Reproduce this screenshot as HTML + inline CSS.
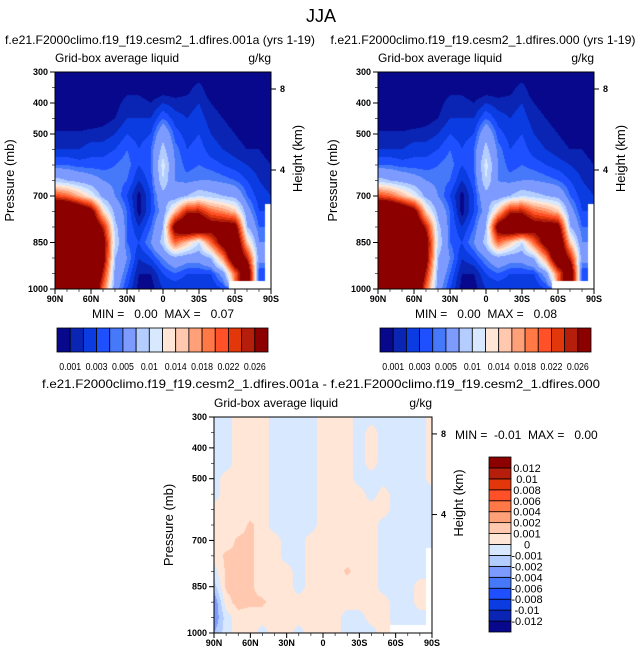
<!DOCTYPE html>
<html><head><meta charset="utf-8">
<style>
body{margin:0;background:#fff;}
#root{position:relative;width:643px;height:658px;overflow:hidden;font-family:"Liberation Sans",Arial,sans-serif;}
canvas{position:absolute;}
svg{position:absolute;left:0;top:0;}
</style></head>
<body><div id="root">
<canvas id="cA" width="216" height="217" style="left:55px;top:72px"></canvas>
<canvas id="cB" width="216" height="217" style="left:378px;top:72px"></canvas>
<canvas id="cD" width="218" height="216" style="left:214px;top:417px"></canvas>
<svg id="svg" width="643" height="658"></svg>
</div>
<script>
const lats=[90,80,70,60,50,40,30,20,10,0,-10,-20,-30,-40,-50,-60,-70,-80,-90];
const pres=[300,350,400,450,500,550,600,650,700,750,800,850,900,950,1000];
const N=null;
// values in 1e-3 g/kg
const fieldA=[
[0,0,0,0,0,0,0,0,0,0,0,0,0,0,0,0,0,0,0],
[0,0,0,0,0,0,0.5,0.5,0,0,0,0.5,1.5,0,0,0,0,0,0],
[0,0,0,0,0,0.5,1.5,1.5,1,2,1.5,1.5,2,1,0.5,0,0,0,0],
[0,0,0,0,0.5,1,2,2,2,4,2.5,2,2.5,1.5,1,0.5,0,0,0],
[1.2,1.2,1.2,1.5,1.5,2,3,2.5,3,7,3.5,2.5,3,2,1.5,1,0.5,0.5,0],
[2,2,2,2.5,2.5,3,4,3,4,9,4.5,3,3.5,2.5,2,1.5,1,1,0.5],
[4,4,3.5,3.5,3.5,4,4.5,3,4,11,5,3.5,4,3.5,3,2.5,2,1.5,1],
[9,8,7,6,5,4.5,4,2,3.5,10,5,4.5,5,5,4.5,4,3,2,1.5],
[22,20,16,12,7,5,3,0.5,3,7,6,8,10,9,8,7,4,2.5,2],
[40,40,35,30,14,7,4,0.5,3,6,15,25,25,20,18,15,6,3,N],
[40,40,40,35,25,9,4,2,4,8,30,35,35,30,30,30,8,4,N],
[40,40,40,40,30,10,4,3,5,9,20,15,10,20,30,35,15,5,N],
[40,40,40,40,30,8,5,2,3,5,7,6,6,8,18,35,25,6,N],
[40,40,40,40,25,7,4,1,1,3,4,3,3,3,6,20,35,3,N],
[40,40,40,40,20,6,3,0.5,0.5,2,2,2,2,2,3,N,N,N,N]];
const fieldB=[
[0,0,0,0,0,0,0,0,0,0,0,0,0,0,0,0,0,0,0],
[0,0,0,0,0,0,0.5,0.5,0,0,0,0.5,1.5,0,0,0,0,0,0],
[0,0,0,0,0,0.5,1.5,1.5,1,2,1.5,1.5,2,1,0.5,0,0,0,0],
[0,0,0,0,0.5,1,2,2,2,4,2.5,2,2.5,1.5,1,0.5,0,0,0],
[1.2,1.2,1.2,1.5,1.5,2,3,2.5,3,7,3.5,2.5,3,2,1.5,1,0.5,0.5,0],
[2,2,2,2.5,2.5,3,4,3,4,9,4.5,3,3.5,2.5,2,1.5,1,1,0.5],
[4,4,3.5,3.5,3.5,4,4.5,3,4,11,5,3.5,4,3.5,3,2.5,2,1.5,1],
[9,8,7,6,5,4.5,4,2,3.5,10,5,4.5,5,5,4.5,4,3,2,1.5],
[22,20,16,12,7,5,3,0.5,3,7,6,8,10,9,8,7,4,2.5,2],
[40,40,35,30,14,7,4,0.5,3,6,15,25,25,20,18,15,6,3,N],
[40,40,40,35,25,9,4,2,4,8,30,35,35,30,30,30,8,4,N],
[40,40,40,40,30,10,4,3,5,9,20,15,10,20,30,35,15,5,N],
[40,40,40,40,30,8,5,2,3,5,7,6,6,8,18,35,25,6,N],
[40,40,40,40,25,7,4,1,1,3,4,3,3,3,6,20,35,3,N],
[40,40,40,40,20,6,3,0.5,0.5,2,2,2,2,2,3,N,N,N,N]];
const fieldD=[
[-0.5,-0.5,0.5,0.5,0.5,-0.5,-0.5,-0.5,-0.5,0.5,0.5,0.5,-0.5,-0.5,-0.5,-0.5,-0.5,-0.5,0.5],
[-0.5,-0.5,0.5,0.5,0.5,-0.5,-0.5,-0.5,-0.5,0.5,0.5,0.5,-0.5,0.5,-0.5,-0.5,-0.5,-0.5,0.5],
[-0.5,-0.5,0.5,0.5,0.5,-0.5,-0.5,-0.5,-0.5,0.5,0.5,0.5,-0.5,0.5,-0.5,-0.5,-0.5,-0.5,0.5],
[-0.5,-0.5,0.5,0.5,0.5,-0.5,-0.5,-0.5,-0.5,0.5,0.5,0.5,-0.5,0.5,-0.5,-0.5,-0.5,-0.5,0.5],
[-0.5,0.5,0.5,0.5,0.5,-0.5,-0.5,-0.5,-0.5,0.5,0.5,0.5,-0.5,-0.5,-0.5,-0.5,-0.5,-0.5,0.5],
[-0.5,0.5,0.5,0.5,0.5,-0.5,-0.5,-0.5,-0.5,0.5,0.5,0.5,0.5,-0.5,0.5,-0.5,-0.5,-0.5,-0.5],
[0.5,0.5,0.5,0.5,0.5,-0.5,-0.5,-0.5,-0.5,0.5,0.5,0.5,0.5,0.5,0.5,-0.5,-0.5,-0.5,-0.5],
[0.5,0.5,0.5,1.2,0.5,-0.5,-0.5,-0.5,-0.5,0.5,0.5,0.5,0.5,0.5,-0.5,-0.5,-0.5,-0.5,-0.5],
[0.5,0.5,1.2,1.2,0.5,0.5,-0.5,-0.5,0.5,0.5,0.5,0.5,0.5,0.5,-0.5,-0.5,-0.5,-0.5,-0.5],
[0.5,1.2,1.2,1.2,0.5,0.5,-0.5,-0.5,0.5,0.5,0.5,0.5,0.5,0.5,-0.5,-0.5,-0.5,-0.5,N],
[-0.5,1.2,1.5,1.2,0.5,0.5,0.5,-0.5,0.5,0.5,0.5,1.2,0.5,0.5,-0.5,-0.5,-0.5,-0.5,N],
[-1.5,1.2,1.5,1.2,0.5,0.5,0.5,-0.5,0.5,0.5,0.5,0.5,0.5,0.5,-0.5,-0.5,-0.5,0.5,N],
[-3,0.5,1.5,1.2,1.2,0.5,0.5,0.5,0.5,0.5,0.5,0.5,0.5,0.5,0.5,-0.5,-0.5,0.5,N],
[-3,-0.5,0.5,0.5,0.5,0.5,0.5,0.5,0.5,0.5,0.5,-0.5,-0.5,0.5,0.5,-0.5,-0.5,-0.5,N],
[-2,-0.5,0.5,0.5,-0.5,0.5,0.5,-0.5,0.5,0.5,0.5,-0.5,-0.5,-0.5,0.5,N,N,N,N]];
const levelsAB=[0.001,0.002,0.003,0.004,0.005,0.008,0.01,0.012,0.014,0.016,0.018,0.02,0.022,0.024,0.026];
const labelsAB=["0.001","0.003","0.005","0.01","0.014","0.018","0.022","0.026"];
const levelsD=[-0.012,-0.01,-0.008,-0.006,-0.004,-0.002,-0.001,0,0.001,0.002,0.004,0.006,0.008,0.01,0.012];
const labelsD=["-0.012","-0.01","-0.008","-0.006","-0.004","-0.002","-0.001","0","0.001","0.002","0.004","0.006","0.008","0.01","0.012"];
const xTicks=[[90,"90N"],[60,"60N"],[30,"30N"],[0,"0"],[-30,"30S"],[-60,"60S"],[-90,"90S"]];
const pTicks=[300,400,500,700,850,1000];
const hTicks=[[8,"8"],[4,"4"]];
const cols=["#07088c","#0a24b4","#0a3ce1","#1e50ff","#4678fa","#7d9bff","#b4cdff","#d7e8ff","#ffe6d7","#ffc8af","#ffa078","#ff7846","#ff5028","#e1370a","#b41e0a","#8c0000"];

function hex(c){return [parseInt(c.substr(1,2),16),parseInt(c.substr(3,2),16),parseInt(c.substr(5,2),16)];}
function level(v,lv){let k=0;while(k<lv.length&&v>=lv[k]-1e-12)k++;return k;}
function drawField(id,field,lv){
  const cv=document.getElementById(id),ctx=cv.getContext('2d');
  const W=cv.width,H=cv.height,img=ctx.createImageData(W,H);
  for(let y=0;y<H;y++){
    const p=300+700*(y+0.5)/H;
    let r=0;while(r<pres.length-2&&p>pres[r+1])r++;
    const fy=(p-pres[r])/(pres[r+1]-pres[r]);
    for(let x=0;x<W;x++){
      const lat=90-180*(x+0.5)/W;
      let c=0;while(c<lats.length-2&&lat<lats[c+1])c++;
      const fx=(lats[c]-lat)/(lats[c]-lats[c+1]);
      const i=(y*W+x)*4;
      const near=field[r+(fy>0.5?1:0)][c+(fx>0.5?1:0)];
      if(near===null){img.data[i]=img.data[i+1]=img.data[i+2]=255;img.data[i+3]=255;continue;}
      const pts=[[field[r][c],(1-fx)*(1-fy)],[field[r][c+1],fx*(1-fy)],[field[r+1][c],(1-fx)*fy],[field[r+1][c+1],fx*fy]];
      let s=0,w=0;pts.forEach(q=>{if(q[0]!==null){s+=q[0]*q[1];w+=q[1];}});
      const v=(w>0?s/w:0)*0.001;
      const rgb=hex(cols[level(v,lv)]);
      img.data[i]=rgb[0];img.data[i+1]=rgb[1];img.data[i+2]=rgb[2];img.data[i+3]=255;
    }
  }
  ctx.putImageData(img,0,0);
}
drawField('cA',fieldA,levelsAB);
drawField('cB',fieldB,levelsAB);
drawField('cD',fieldD,levelsD);

const svg=document.getElementById('svg');const NS="http://www.w3.org/2000/svg";
function el(tag,attrs,txt){const e=document.createElementNS(NS,tag);for(const k in attrs)e.setAttribute(k,attrs[k]);if(txt!==undefined)e.textContent=txt;svg.appendChild(e);return e;}
function txt(x,y,s,size,anchor,name,extra){const t=el('text',Object.assign({x:x,y:y,'font-size':size,'text-anchor':anchor||'start',fill:'#000',style:'white-space:pre'},extra||{}),s);


return t;}

function axes(x0,y0,W,H,title,tag,tcx,tlen,mm,mmx,mmy){
  const r=el('rect',{x:x0,y:y0,width:W,height:H,fill:'none',stroke:'#000','stroke-width':1});
  
  
  txt(tcx,y0-(tag==='diff'?29:28),title,12,'middle',tag+'-title',{textLength:tlen,lengthAdjust:'spacingAndGlyphs'});
  txt(x0,y0-10,'Grid-box average liquid',12,'start',tag+'-subtitle-left');
  txt(x0+W,y0-10,'g/kg',12,'end',tag+'-units');
  const py=p=>y0+H*(p-300)/700;
  pTicks.forEach(p=>{const l=el('line',{x1:x0-5,x2:x0,y1:py(p),y2:py(p),stroke:'#000'});
    
    txt(x0-7,py(p)+3,String(p),9,'end','y-tick-label',{'font-weight':'bold'});});
  for(let p=300;p<=1000;p+=50){el('line',{x1:x0-3,x2:x0,y1:py(p),y2:py(p),stroke:'#000','stroke-width':0.6});}
  const zy=z=>y0+(z===8?17:98)*H/217;
  hTicks.forEach(h=>{const y=zy(h[0]);const l=el('line',{x1:x0+W,x2:x0+W+5,y1:y,y2:y,stroke:'#000'});
    
    txt(x0+W+9,y+3,h[1],9,'start','height-tick-label',{'font-weight':'bold'});});
  const lx=l=>x0+W*(90-l)/180;
  xTicks.forEach(t=>{const l=el('line',{x1:lx(t[0]),x2:lx(t[0]),y1:y0+H,y2:y0+H+5,stroke:'#000'});
    
    txt(lx(t[0]),y0+H+13,t[1],9,'middle','x-tick-label',{'font-weight':'bold'});});
  for(let l=90;l>=-90;l-=10){el('line',{x1:lx(l),x2:lx(l),y1:y0+H,y2:y0+H+3,stroke:'#000','stroke-width':0.6});}
  const yl=txt(0,0,'Pressure (mb)',13,'middle','y-axis-title');yl.setAttribute('transform',`translate(${x0-41},${y0+H/2}) rotate(-90)`);
  const hl=txt(0,0,'Height (km)',13,'middle','height-axis-title');hl.setAttribute('transform',`translate(${x0+W+31},${y0+H/2-22}) rotate(-90)`);
  if(mm)txt(mmx,mmy,mm,12,tag==='diff'?'start':'middle',tag+'-min-max');
}
txt(321,22,'JJA',18,'middle','figure-title');
axes(55,72,216,217,'f.e21.F2000climo.f19_f19.cesm2_1.dfires.001a (yrs 1-19)','panel-a',160,310,'MIN =   0.00  MAX =   0.07',163,318);
axes(378,72,216,217,'f.e21.F2000climo.f19_f19.cesm2_1.dfires.000 (yrs 1-19)','panel-b',483,305,'MIN =   0.00  MAX =   0.08',486,318);
axes(214,417,218,216,'f.e21.F2000climo.f19_f19.cesm2_1.dfires.001a - f.e21.F2000climo.f19_f19.cesm2_1.dfires.000','diff',321,558,'MIN =  -0.01  MAX =   0.00',455,439);

function hbar(x0,y0,W,H,labels,tag){
  const bw=W/cols.length;
  cols.forEach((c,i)=>{const r=el('rect',{x:x0+i*bw,y:y0,width:bw,height:H,fill:c,stroke:'#000','stroke-width':0.8});
    });
  labels.forEach((s,j)=>txt(x0+(2*j+1)*bw,y0+H+18,s,10,'middle',tag+'-label',{textLength:s.length>4?22:17,lengthAdjust:'spacingAndGlyphs'}));
}
hbar(57,328,211,24,labelsAB,'colorbar-a');
hbar(380,328,211,24,labelsAB,'colorbar-b');
(function(){const x0=489,y0=457,W=22,H=175,bh=H/cols.length;
  cols.forEach((c,i)=>{const r=el('rect',{x:x0,y:y0+H-(i+1)*bh,width:W,height:bh,fill:c,stroke:'#000','stroke-width':0.8});
    });
  labelsD.forEach((s,j)=>txt(x0+W+16,y0+H-(j+1)*bh+4,s,11,'middle','colorbar-diff-label'));
})();
</script>
</body></html>
